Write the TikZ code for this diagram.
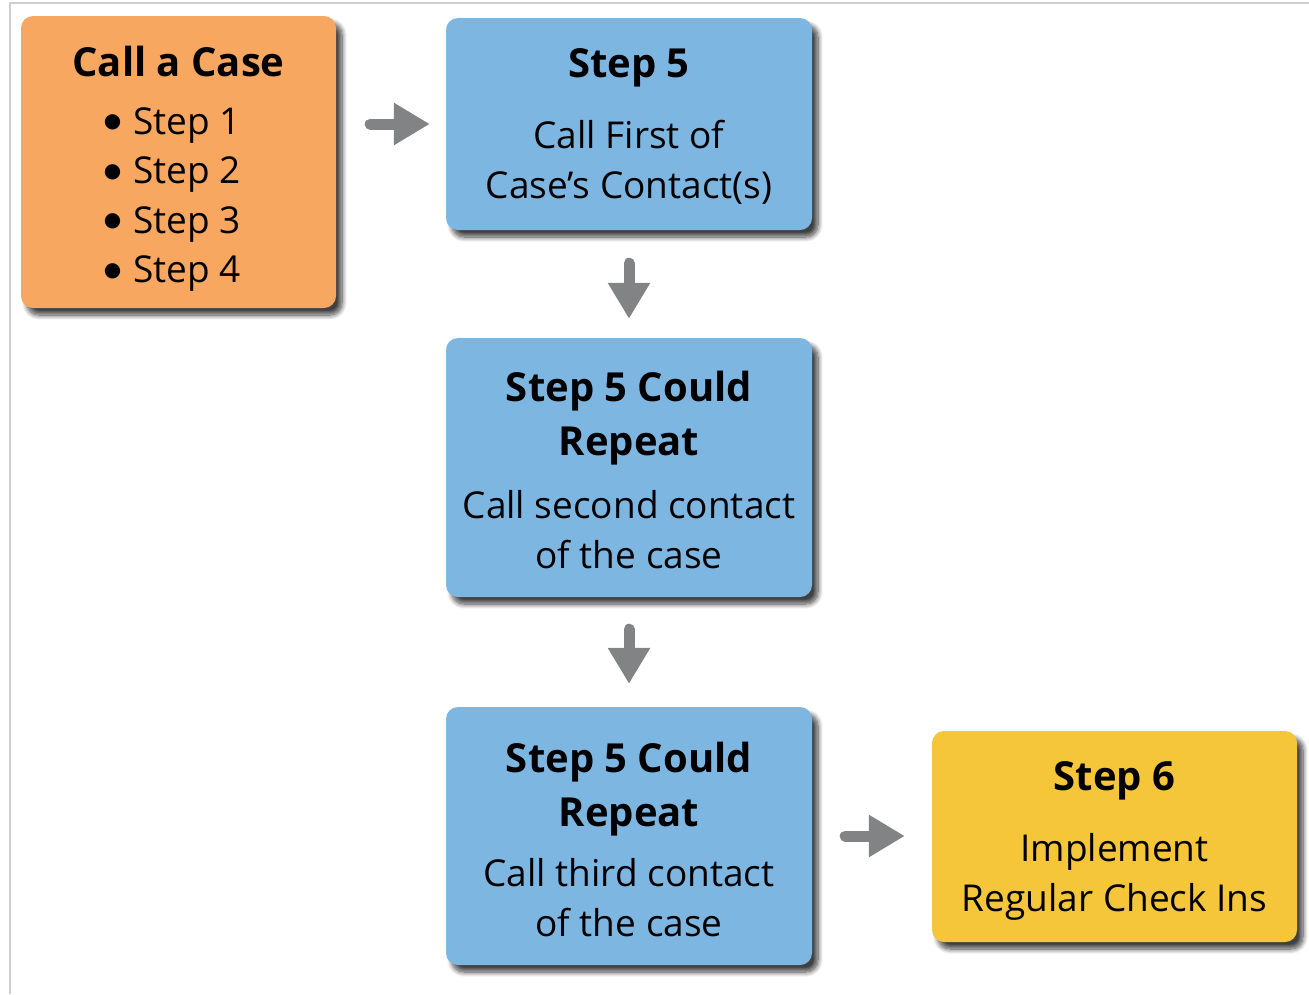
\documentclass[tikz,border=0pt]{standalone}
\usepackage{fontspec}
\setmainfont{Open Sans}
\newfontfamily\dotfont{DejaVu Sans}
\usetikzlibrary{arrows.meta,shadows.blur}
\definecolor{boxorange}{HTML}{F7A75F}
\definecolor{boxblue}{HTML}{7EB6E2}
\definecolor{boxyellow}{HTML}{F6C63A}
\definecolor{arrowgray}{HTML}{828385}
\definecolor{framegray}{HTML}{CFCFCF}
\tikzset{
  card/.style={rounded corners=12pt, inner sep=0pt, align=center,
    font=\fontsize{37}{50}\selectfont,
    blur shadow={shadow xshift=6pt, shadow yshift=-7pt, shadow blur radius=5pt,
      shadow opacity=75, shadow blur steps=10}},
  flowarrow/.style={draw=arrowgray, line width=11pt, line cap=round,
    -{Triangle[width=40pt,length=36pt]}, arrowgray}
}
% bold heading line
\newcommand{\ttl}[1]{{\fontsize{40}{50}\selectfont\bfseries #1}}
% stacked lines of a card; rows are 50pt apart
\newcommand{\cardlines}[1]{\begin{tabular}{@{}c@{}}#1\end{tabular}}
% one bullet item of the first card
\newcommand{\bitem}[1]{\makebox[145pt][l]{\makebox[13pt][c]{\raisebox{6.5pt}{\dotfont\fontsize{20}{20}\selectfont ●}}\hspace{14pt}#1}}
\begin{document}
\begin{tikzpicture}[x=1pt,y=-1pt]
\useasboundingbox (0,0) rectangle (1309,994);
% page frame
\draw[framegray, line width=2pt] (10,994) -- (10,3) -- (1309,3);

% boxes
\node[card, fill=boxorange, minimum width=315pt, minimum height=292pt] (start) at (178.5,162)
  {\cardlines{\rule{0pt}{49.5pt}\ttl{Call a Case}\\[8pt]
   \bitem{Step 1}\\[-0.5pt] \bitem{Step 2}\\[-0.5pt] \bitem{Step 3}\\[-0.5pt] \bitem{Step 4}}};
\node[card, fill=boxblue, minimum width=366pt, minimum height=212pt] (firstcall) at (629,124)
  {\cardlines{\rule{0pt}{43.5pt}\ttl{Step 5}\\[21pt] Call First of\\ Case’s Contact(s)}};
\node[card, fill=boxblue, minimum width=366pt, minimum height=259pt] (secondcall) at (629,467.5)
  {\cardlines{\rule{0pt}{49.5pt}\ttl{Step 5 Could}\\[4.5pt] \ttl{Repeat}\\[12.5pt] Call second contact\\ of the case}};
\node[card, fill=boxblue, minimum width=366pt, minimum height=258pt] (thirdcall) at (629,836)
  {\cardlines{\rule{0pt}{51pt}\ttl{Step 5 Could}\\[4pt] \ttl{Repeat}\\[10pt] Call third contact\\ of the case}};
\node[card, fill=boxyellow, minimum width=365pt, minimum height=211pt] (checkins) at (1114.5,836.5)
  {\cardlines{\rule{0pt}{43pt}\ttl{Step 6}\\[21pt] Implement\\ Regular Check Ins}};

% connectors
\draw[flowarrow, shorten <=34pt, shorten >=16pt] (start.east |- firstcall.west) -- (firstcall.west);
\draw[flowarrow, shorten <=33pt, shorten >=19pt] (firstcall.south) -- (secondcall.north);
\draw[flowarrow, shorten <=32pt, shorten >=23pt] (secondcall.south) -- (thirdcall.north);
\draw[flowarrow, shorten <=33pt, shorten >=27pt] (thirdcall.east) -- (checkins.west |- thirdcall.east);
\end{tikzpicture}
\end{document}
